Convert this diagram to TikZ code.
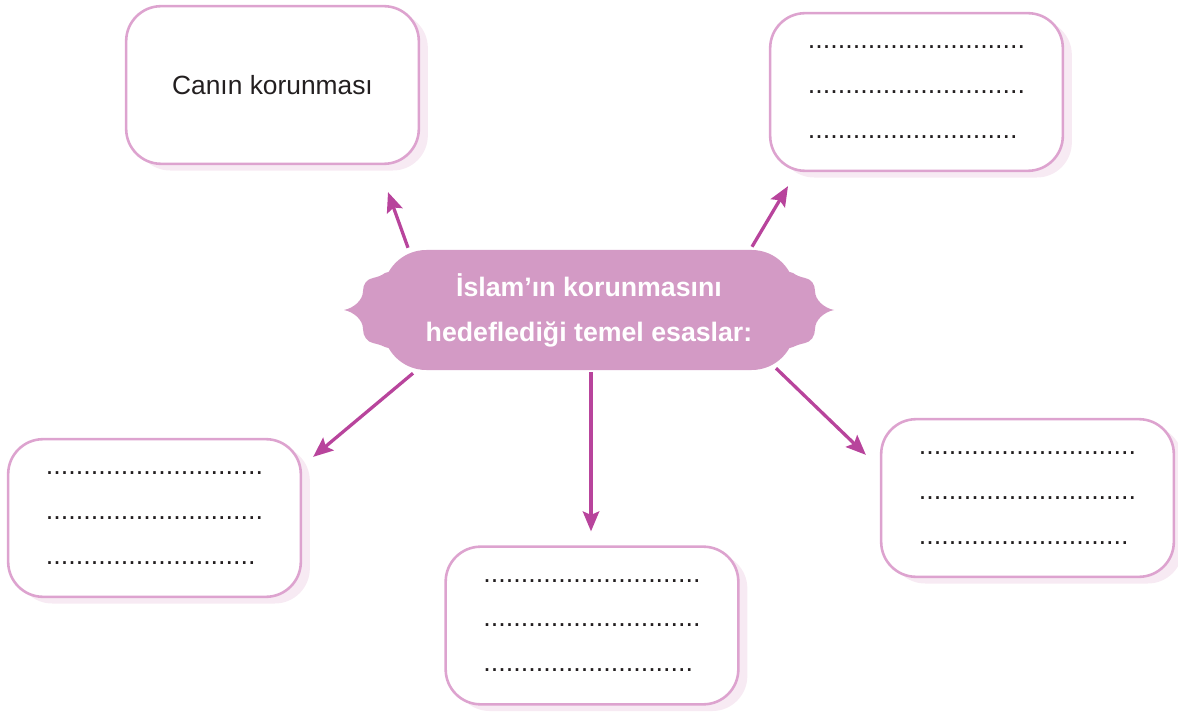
\documentclass[tikz,border=0pt]{standalone}
\usepackage{fontspec}
\setmainfont{Liberation Sans}
\usetikzlibrary{shadows,arrows.meta,calc}
\definecolor{arrcol}{HTML}{B8449C}
\definecolor{bannerfill}{HTML}{D39AC5}
\definecolor{boxline}{HTML}{DDA3CF}
\definecolor{shadowcol}{HTML}{F7EAF3}
\definecolor{ink}{HTML}{231F20}
\begin{document}
\begin{tikzpicture}[x=0.03cm,y=-0.03cm,
  box/.style={draw=boxline, line width=2.2pt, fill=white, rounded corners=1.05cm,
    minimum width=8.78cm, minimum height=4.73cm, inner sep=0pt, align=left, text=ink,
    font=\fontsize{23}{38.3}\selectfont,
    drop shadow={shadow xshift=0.27cm, shadow yshift=-0.2cm, fill=shadowcol, opacity=1}},
  arr/.style={draw=arrcol, line width=2.8pt, -{Stealth[length=17pt,width=14pt,inset=3pt]}},
  banner/.style={fill=bannerfill, rounded corners=1.3cm, minimum width=12.36cm,
    minimum height=3.6cm, text=white, align=center, inner sep=0pt,
    font=\fontsize{22.8}{38.3}\selectfont\bfseries}]
\useasboundingbox (0,0) rectangle (1178,712);

% boxes
\node[box, font=\fontsize{22.5}{27}\selectfont] (b1) at (272.5,85) {Canın korunması};
\node[box] (b2) at (916.5,92) {.............................\\.............................\\............................};
\node[box] (b3) at (154.5,518) {.............................\\.............................\\............................};
\node[box] (b4) at (592,625.5) {.............................\\.............................\\............................};
\node[box] (b5) at (1027.5,498) {.............................\\.............................\\............................};

% central banner
\node[banner] (c) at (589,310) {İslam’ın korunmasını\\hedeflediği temel esaslar:};
\fill[bannerfill] (395,270) -- (385,273) .. controls (381,276) and (377,277) .. (373,278)
  .. controls (367,279) and (363,284) .. (363,291)
  .. controls (363,300) and (354,308) .. (344,310)
  .. controls (354,312) and (363,320) .. (363,329)
  .. controls (363,336) and (367,342) .. (373,343)
  .. controls (377,344) and (381,345) .. (385,347) -- (395,350) -- cycle;
\fill[bannerfill] (783,270) -- (793,273) .. controls (797,276) and (801,277) .. (805,278)
  .. controls (811,279) and (815,284) .. (815,291)
  .. controls (815,300) and (824,308) .. (834,310)
  .. controls (824,312) and (815,320) .. (815,329)
  .. controls (815,336) and (811,342) .. (805,343)
  .. controls (801,344) and (797,345) .. (793,347) -- (783,350) -- cycle;

% arrows
\draw[arr] ($(c.north)+(-181,-2)$) -- ($(b1.south)+(115.5,27)$);
\draw[arr] ($(c.north)+(163,-3)$) -- ($(b2.south)+(-128.5,14)$);
\draw[arr] ($(c.south)+(-176,3)$) -- ($(b3.north east)+(11,19)$);
\draw[arr] ($(c.south)+(2,2)$) -- ($(b4.north)+(-1,-14)$);
\draw[arr] ($(c.south)+(187,-2)$) -- ($(b5.north west)+(-14,37)$);
\end{tikzpicture}
\end{document}
